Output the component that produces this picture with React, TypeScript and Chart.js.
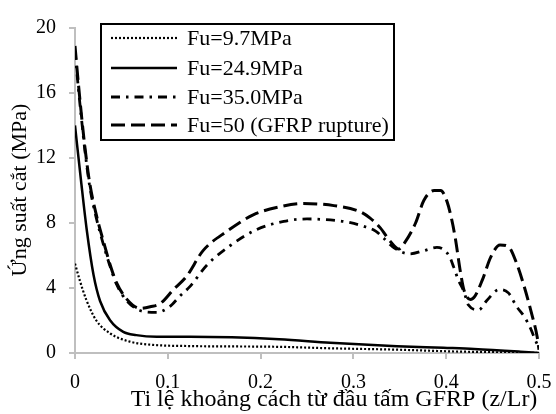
import React, { useEffect, useRef } from "react";
import { Chart, registerables } from "chart.js";

Chart.register(...registerables);

// ---- Data ----
const xTickValues = [0, 0.1, 0.2, 0.3, 0.4, 0.5];
const yTickValues = [0, 4, 8, 12, 16, 20];

const seriesLabels = ["Fu=9.7MPa", "Fu=24.9MPa", "Fu=35.0MPa", "Fu=50 (GFRP rupture)"];

const fu97X = [0, 0.005, 0.012, 0.023, 0.038, 0.059, 0.084, 0.12, 0.22, 0.275, 0.35, 0.404, 0.45, 0.5];
const fu97Y = [5.5, 4.5, 3.3, 2.0, 1.2, 0.7, 0.5, 0.43, 0.38, 0.29, 0.2, 0.1, 0.05, 0.0];

const fu249X = [0, 0.0065, 0.0126, 0.02, 0.027, 0.038, 0.052, 0.066, 0.088, 0.124, 0.22, 0.275, 0.347, 0.397, 0.43, 0.48, 0.5];
const fu249Y = [14.0, 10.6, 7.6, 4.8, 3.2, 2.0, 1.3, 1.1, 1.0, 1.0, 0.85, 0.63, 0.42, 0.32, 0.25, 0.08, 0.0];

const fu35X = [0, 0.0036, 0.0072, 0.0108, 0.016, 0.023, 0.031, 0.038, 0.045, 0.056, 0.074, 0.088, 0.102, 0.113, 0.124, 0.142, 0.167, 0.196, 0.225, 0.25, 0.282, 0.295, 0.311, 0.324, 0.333, 0.342, 0.361, 0.376, 0.39, 0.403, 0.408, 0.413, 0.419, 0.424, 0.435, 0.444, 0.457, 0.467, 0.476, 0.484, 0.491, 0.496, 0.5];
const fu35Y = [18.6, 16.3, 14.3, 12.4, 10.2, 8.3, 6.6, 5.3, 4.2, 3.2, 2.55, 2.5, 2.85, 3.5, 4.1, 5.4, 6.6, 7.6, 8.1, 8.25, 8.15, 8.04, 7.8, 7.5, 7.05, 6.55, 6.1, 6.3, 6.5, 6.0, 5.3, 4.5, 3.8, 2.95, 2.65, 3.25, 3.9, 3.7, 2.85, 2.25, 1.5, 0.8, 0.3];

const fu50X = [0, 0.0036, 0.0072, 0.0108, 0.016, 0.023, 0.031, 0.038, 0.045, 0.056, 0.07, 0.081, 0.092, 0.106, 0.12, 0.138, 0.164, 0.192, 0.221, 0.246, 0.279, 0.307, 0.318, 0.329, 0.34, 0.349, 0.356, 0.367, 0.376, 0.387, 0.394, 0.401, 0.406, 0.41, 0.415, 0.419, 0.426, 0.431, 0.439, 0.448, 0.458, 0.467, 0.476, 0.484, 0.491, 0.498, 0.5];
const fu50Y = [18.9, 16.6, 14.5, 12.6, 10.4, 8.5, 6.8, 5.4, 4.3, 3.3, 2.75, 2.85, 3.05, 3.9, 4.7, 6.3, 7.5, 8.5, 9.0, 9.2, 9.07, 8.7, 8.3, 7.7, 6.85, 6.4, 6.85, 8.0, 9.4, 10.0, 10.0, 9.3, 8.2, 7.0, 5.1, 3.9, 3.3, 3.5, 4.5, 5.9, 6.65, 6.55, 5.5, 4.1, 2.65, 1.0, 0.2];

const xTitle = "Ti lệ khoảng cách từ đầu tấm GFRP (z/Lr)";
const yTitle = "Ứng suất cắt (MPa)";

const FONT = '"Liberation Serif", "Times New Roman", serif';

const toPoints = (xs: number[], ys: number[]) => xs.map((x, i) => ({ x, y: ys[i] }));

const styles = [
  { width: 2.2, dash: [2, 2] },
  { width: 2.5, dash: [] as number[] },
  { width: 2.8, dash: [9, 6, 2.5, 6] },
  { width: 3, dash: [14, 6] },
];

const overlayPlugin = {
  id: "overlay",
  afterDraw(chart: any) {
    const ctx = chart.ctx as CanvasRenderingContext2D;
    ctx.save();
    // Legend box
    ctx.strokeStyle = "#000";
    ctx.lineWidth = 2;
    ctx.setLineDash([]);
    ctx.strokeRect(101, 24, 293, 116);
    const rows = [38, 68, 97, 125];
    ctx.font = `22px ${FONT}`;
    ctx.fillStyle = "#000";
    ctx.textBaseline = "middle";
    ctx.textAlign = "left";
    rows.forEach((ry, i) => {
      const st = styles[i];
      ctx.beginPath();
      ctx.lineWidth = st.width;
      ctx.setLineDash(st.dash);
      ctx.moveTo(111, ry);
      ctx.lineTo(177, ry);
      ctx.stroke();
      ctx.setLineDash([]);
      ctx.fillText(seriesLabels[i], 187, ry + 1);
    });
    // Axis titles
    ctx.font = `24px ${FONT}`;
    ctx.textAlign = "center";
    ctx.textBaseline = "middle";
    ctx.fillText(xTitle, 334, 400);
    ctx.font = `22px ${FONT}`;
    ctx.translate(20, 190);
    ctx.rotate(-Math.PI / 2);
    ctx.fillText(yTitle, 0, 0);
    ctx.restore();
  },
};

export default function App() {
  const canvasRef = useRef<HTMLCanvasElement | null>(null);

  useEffect(() => {
    const canvas = canvasRef.current;
    if (!canvas) return;
    const data = [
      toPoints(fu97X, fu97Y),
      toPoints(fu249X, fu249Y),
      toPoints(fu35X, fu35Y),
      toPoints(fu50X, fu50Y),
    ];
    const chart = new Chart(canvas, {
      type: "line",
      data: {
        datasets: data.map((d, i) => ({
          label: seriesLabels[i],
          data: d,
          borderColor: "#000",
          backgroundColor: "#000",
          borderWidth: styles[i].width,
          borderDash: styles[i].dash,
          pointRadius: 0,
          fill: false,
          cubicInterpolationMode: "monotone" as const,
          order: 3 - i,
        })),
      },
      options: {
        responsive: false,
        animation: false,
        events: [],
        layout: { padding: { top: 28, right: 17, left: 0, bottom: 0 } },
        plugins: {
          legend: { display: false },
          tooltip: { enabled: false },
        },
        scales: {
          x: {
            type: "linear",
            min: 0,
            max: 0.5,
            afterBuildTicks: (scale: any) => {
              scale.ticks = xTickValues.map((v) => ({ value: v }));
            },
            afterFit: (scale: any) => {
              scale.height = 61;
              scale.paddingLeft = 0;
              scale.paddingRight = 0;
            },
            ticks: {
              color: "#000",
              font: { family: FONT, size: 20 },
              padding: 12,
              maxRotation: 0,
              callback: (v: any) => (Number(v) === 0 ? "0" : Number(v).toFixed(1)),
            },
            grid: {
              display: true,
              drawOnChartArea: false,
              drawTicks: true,
              tickLength: 6,
              color: "#bfbfbf",
              lineWidth: 2,
            },
            border: { display: true, color: "#bfbfbf", width: 2 },
          },
          y: {
            type: "linear",
            min: 0,
            max: 20,
            afterBuildTicks: (scale: any) => {
              scale.ticks = yTickValues.map((v) => ({ value: v }));
            },
            afterFit: (scale: any) => {
              scale.width = 75;
              scale.paddingTop = 0;
              scale.paddingBottom = 0;
            },
            ticks: {
              color: "#000",
              font: { family: FONT, size: 20 },
              padding: 13,
              callback: (v: any) => String(v),
            },
            grid: {
              display: true,
              drawOnChartArea: false,
              drawTicks: true,
              tickLength: 6,
              color: "#bfbfbf",
              lineWidth: 2,
            },
            border: { display: true, color: "#bfbfbf", width: 2 },
          },
        },
      },
      plugins: [overlayPlugin],
    });
    return () => chart.destroy();
  }, []);

  return (
    <div style={{ position: "absolute", left: 0, top: 0, width: 556, height: 414, background: "#fff" }}>
      <canvas ref={canvasRef} width={556} height={414} style={{ display: "block" }} />
    </div>
  );
}
